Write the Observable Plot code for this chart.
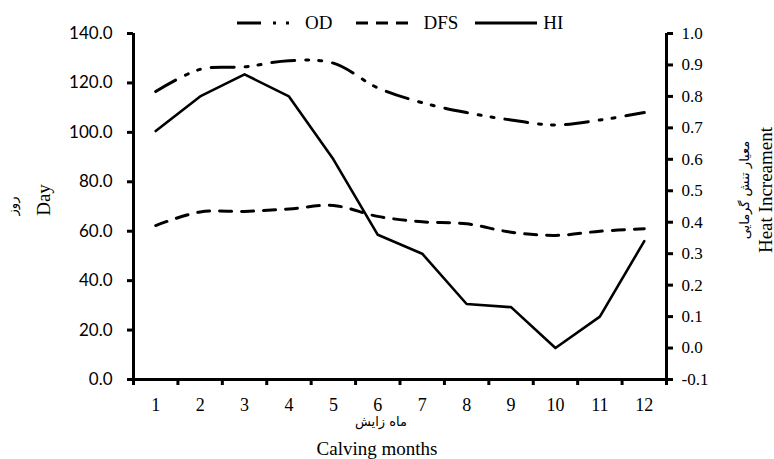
<!DOCTYPE html>
<html><head><meta charset="utf-8">
<script src="https://cdn.jsdelivr.net/npm/d3@7"></script>
<script src="https://cdn.jsdelivr.net/npm/@observablehq/plot@0.6"></script>
<style>
body{margin:0;background:#fff;}
#wrap{position:relative;width:774px;height:459px;overflow:hidden;}
.t{position:absolute;white-space:nowrap;color:#000;line-height:1;}
.c{transform:translate(-50%,-50%);}
.r{transform:translate(-50%,-50%) rotate(-90deg);}
.serif{font-family:"Liberation Serif","DejaVu Serif",serif;}
.ar{font-family:"DejaVu Sans",sans-serif;}
#legend{position:absolute;top:12px;left:237px;display:flex;align-items:center;font-family:"Liberation Serif",serif;font-size:19px;}
</style></head><body><div id="wrap"></div>
<script>
const months = [1,2,3,4,5,6,7,8,9,10,11,12];
const od  = [116.5,125.5,126.5,129,128,118,112,108,105,103,105,108];
const dfs = [62.3,67.8,68,69,70.4,66,63.8,63,59.6,58.3,60,61];
const hi  = [0.69,0.80,0.87,0.80,0.60,0.36,0.30,0.14,0.13,0.00,0.10,0.34];
const leftTicks  = [0,20,40,60,80,100,120,140];
const rightTicks = [-0.1,0.0,0.1,0.2,0.3,0.4,0.5,0.6,0.7,0.8,0.9,1.0];
const monthEdges = [0.5,1.5,2.5,3.5,4.5,5.5,6.5,7.5,8.5,9.5,10.5,11.5,12.5];
const leftMax = 140, rightMin = -0.1, rightMax = 1.0;

const toLeft = v => (v - rightMin) * leftMax / (rightMax - rightMin);
const odData  = months.map((m,i)=>({m, v: od[i]}));
const dfsData = months.map((m,i)=>({m, v: dfs[i]}));
const hiData  = months.map((m,i)=>({m, v: toLeft(hi[i])}));
const rightPos = rightTicks.map(toLeft);

const plot = Plot.plot({
  width: 774, height: 459,
  marginLeft: 133, marginRight: 108, marginTop: 33, marginBottom: 80,
  x: {domain: [0.5, 12.5]},
  y: {domain: [0, leftMax]},
  style: {background: "#fff", color: "#000"},
  marks: [
    Plot.line(odData, {x: "m", y: "v", curve: "catmull-rom", stroke: "#000", strokeWidth: 3,
      strokeDasharray: "23,11,3,10,3,11"}),
    Plot.line(dfsData, {x: "m", y: "v", curve: "catmull-rom", stroke: "#000", strokeWidth: 3,
      strokeDasharray: "12,10"}),
    Plot.line(hiData, {x: "m", y: "v", stroke: "#000", strokeWidth: 2.6}),
    Plot.ruleX([0.5], {y1: 0, y2: leftMax, stroke: "#000", strokeWidth: 3}),
    Plot.ruleX([12.5], {y1: 0, y2: leftMax, stroke: "#000", strokeWidth: 3}),
    Plot.ruleY([0], {x1: 0.5, x2: 12.5, stroke: "#000", strokeWidth: 3}),
    Plot.axisY({anchor: "left", ticks: leftTicks, tickSize: 6, tickPadding: 15, strokeWidth: 3,
      tickFormat: d => d.toFixed(1), label: null, fontFamily: "Lato, 'Liberation Sans', sans-serif", fontSize: 17}),
    Plot.axisY({anchor: "right", ticks: rightPos, tickSize: 6, tickPadding: 9, strokeWidth: 3,
      tickFormat: d => (Math.round((d * (rightMax - rightMin) / leftMax + rightMin) * 10) / 10).toFixed(1),
      label: null, fontFamily: "'Liberation Serif', serif", fontSize: 17}),
    Plot.axisX({anchor: "bottom", ticks: monthEdges, tickSize: 6, strokeWidth: 3, tickFormat: () => "", label: null}),
    Plot.axisX({anchor: "bottom", ticks: months, tickSize: 0, tickPadding: 19, tickFormat: d => String(d),
      label: null, fontFamily: "'Liberation Serif', serif", fontSize: 18})
  ]
});
const wrap = document.getElementById("wrap");
wrap.appendChild(plot);

function addText(txt, x, y, cls, size) {
  const d = document.createElement("div");
  d.className = "t " + cls;
  d.textContent = txt;
  d.style.left = x + "px"; d.style.top = y + "px"; d.style.fontSize = size + "px";
  wrap.appendChild(d);
}
addText("Day", 43, 200, "r serif", 19);
addText("روز", 12, 206, "r ar", 13);
addText("Heat Increament", 765, 190, "r serif", 19);
addText("معیار تنش گرمایی", 744, 190, "r ar", 13);
addText("ماه زایش", 381, 421, "c ar", 13);
addText("Calving months", 377, 448, "c serif", 19);

// legend
const legendItems = [
  {name: "OD", dash: "24,12,3,10,3,20", w: 54, gap: 14, after: 24},
  {name: "DFS", dash: "12,8", w: 60, gap: 7, after: 17},
  {name: "HI", dash: null, w: 62, gap: 6, after: 0}
];
const lg = document.createElement("div");
lg.id = "legend";
legendItems.forEach(it => {
  const s = d3.create("svg").attr("width", it.w).attr("height", 10);
  const l = s.append("line").attr("x1", 0).attr("x2", it.w).attr("y1", 5).attr("y2", 5)
    .attr("stroke", "#000").attr("stroke-width", 3);
  if (it.dash) l.attr("stroke-dasharray", it.dash);
  lg.appendChild(s.node());
  const sp = document.createElement("span");
  sp.textContent = it.name;
  sp.style.marginLeft = it.gap + "px";
  sp.style.marginRight = it.after + "px";
  lg.appendChild(sp);
});
wrap.appendChild(lg);
</script>
</body></html>
